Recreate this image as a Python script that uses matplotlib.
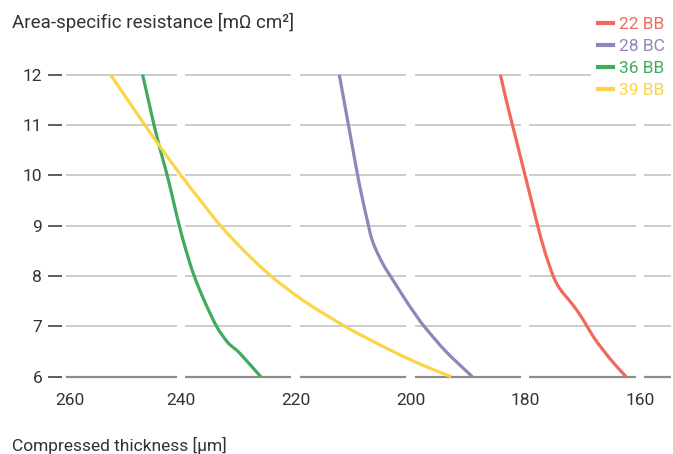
import matplotlib
matplotlib.use("Agg")
import matplotlib.pyplot as plt
from matplotlib.transforms import ScaledTranslation
from matplotlib.path import Path
from matplotlib.patches import PathPatch
from matplotlib.lines import Line2D

plt.rcParams['font.family'] = ['Roboto', 'DejaVu Sans']

# ---- data ----
series_names = ["22 BB", "28 BC", "36 BB", "39 BB"]
colors = ["#ef6a5b", "#9484b9", "#3fab5c", "#fcd44a"]

red_thick = [184.3, 183.3, 182.2, 181.1, 180.0, 178.9, 177.8, 176.6, 175.1, 174.0, 172.6, 171.0, 169.5, 168.1, 166.4, 164.4, 162.4]
red_res   = [12.0, 11.5, 11.0, 10.5, 10.0, 9.5, 9.0, 8.5, 8.0, 7.756, 7.557, 7.325, 7.06, 6.795, 6.53, 6.25, 6.0]

purple_thick = [212.4, 211.6, 210.8, 210.0, 209.2, 208.3, 207.3, 206.9, 206.3, 205.5, 204.6, 203.5, 202.1, 200.7, 199.2, 197.6, 193.8, 189.2]
purple_res   = [12.0, 11.5, 11.0, 10.5, 10.0, 9.5, 9.0, 8.8, 8.6, 8.4, 8.2, 8.0, 7.75, 7.5, 7.25, 7.0, 6.5, 6.0]

green_thick = [246.7, 245.7, 244.7, 243.6, 242.4, 241.35, 240.3, 239.1, 237.7, 235.9, 233.8, 232.0, 231.1, 229.7, 226.1]
green_res   = [12.0, 11.5, 11.0, 10.5, 10.0, 9.5, 9.0, 8.5, 8.0, 7.5, 7.0, 6.7, 6.6, 6.46, 6.0]

yellow_thick = [252.3, 249.3, 246.3, 243.2, 240.0, 236.6, 233.1, 229.0, 224.3, 218.5, 211.4, 207.3, 203.0, 198.3, 192.9]
yellow_res   = [12.0, 11.5, 11.0, 10.5, 10.0, 9.5, 9.0, 8.5, 8.0, 7.5, 7.0, 6.75, 6.5, 6.25, 6.0]

x_ticks = [260, 240, 220, 200, 180, 160]
y_ticks = [6, 7, 8, 9, 10, 11, 12]

title = "Area-specific resistance [mΩ cm²]"
xlabel = "Compressed thickness [µm]"


def smooth_path(xs, ys):
    """Catmull-Rom curve through the points, as cubic Bezier path."""
    pts = list(zip(xs, ys))
    n = len(pts)
    verts = [pts[0]]
    codes = [Path.MOVETO]
    for i in range(n - 1):
        p0 = pts[i - 1] if i > 0 else pts[i]
        p1 = pts[i]
        p2 = pts[i + 1]
        p3 = pts[i + 2] if i + 2 < n else pts[i + 1]
        c1 = (p1[0] + (p2[0] - p0[0]) / 6, p1[1] + (p2[1] - p0[1]) / 6)
        c2 = (p2[0] - (p3[0] - p1[0]) / 6, p2[1] - (p3[1] - p1[1]) / 6)
        verts += [c1, c2, p2]
        codes += [Path.CURVE4] * 3
    return Path(verts, codes)


# ---- figure ----
W, H = 673, 454
fig = plt.figure(figsize=(W / 100, H / 100), dpi=100)
ax = fig.add_axes([66.3 / W, (H - 379.2) / H, 604.7 / W, 307.0 / H])
ax.set_xlim(260, 154.56)
ax.set_ylim(5.95, 12.05)

txt_col = "#333333"
fs = 12.5

# grid lines with gaps at x ticks
gap = 0.75
breaks = [260] + x_ticks[1:]
segs = []
for i in range(len(breaks)):
    start = breaks[i] - (gap if i > 0 else 0)
    end = breaks[i + 1] + gap if i + 1 < len(breaks) else 154.56
    segs.append((start, end))
for yv in y_ticks:
    for s, e in segs:
        if yv == 6:
            ax.hlines(yv, s, e, color="#8c8c8c", lw=1.6, zorder=1)
        else:
            ax.hlines(yv, s, e, color="#c4c4c4", lw=1.2, zorder=1)

datasets = [(red_thick, red_res), (purple_thick, purple_res),
            (green_thick, green_res), (yellow_thick, yellow_res)]
handles = []
for (xs, ys), c, n in zip(datasets, colors, series_names):
    patch = PathPatch(smooth_path(xs, ys), facecolor="none", edgecolor=c,
                      lw=2.3, zorder=3, capstyle="butt", joinstyle="round",
                      transform=ax.transData)
    ax.add_patch(patch)
    handles.append(Line2D([], [], color=c, lw=3, label=n))

for sp in ["top", "right", "bottom"]:
    ax.spines[sp].set_visible(False)
ax.spines["left"].set_position(("outward", 3.3))
ax.spines["left"].set_visible(False)

ax.set_yticks(y_ticks)
ax.set_yticklabels([str(v) for v in y_ticks])
ax.set_xticks(x_ticks)
ax.set_xticklabels([str(v) for v in x_ticks])
ax.tick_params(axis="y", length=10.1, width=1.1, color=txt_col, pad=3.9,
               labelsize=fs, labelcolor=txt_col)
ax.tick_params(axis="x", length=0, pad=10, labelsize=fs, labelcolor=txt_col)

# shift first x tick label slightly to the right, like the reference
lbl0 = ax.get_xticklabels()[0]
lbl0.set_transform(lbl0.get_transform() + ScaledTranslation(4 / 100, 0, fig.dpi_scale_trans))

fig.text(12.5 / W, 1 - 28.3 / H, title, fontsize=13.5, color=txt_col,
         ha="left", va="baseline")
fig.text(12.5 / W, 1 - 450.5 / H, xlabel, fontsize=fs, color=txt_col,
         ha="left", va="baseline")

leg = fig.legend(handles=handles, loc="upper left",
                 bbox_to_anchor=(591 / W, 1 - 9.7 / H),
                 frameon=True, fancybox=False, framealpha=1,
                 edgecolor="none", facecolor="white",
                 fontsize=fs, handlelength=0.86, handletextpad=0.36,
                 labelspacing=0.40, borderpad=0.4, borderaxespad=0)
for t, c in zip(leg.get_texts(), colors):
    t.set_color(c)

fig.savefig("out.png", dpi=100)
